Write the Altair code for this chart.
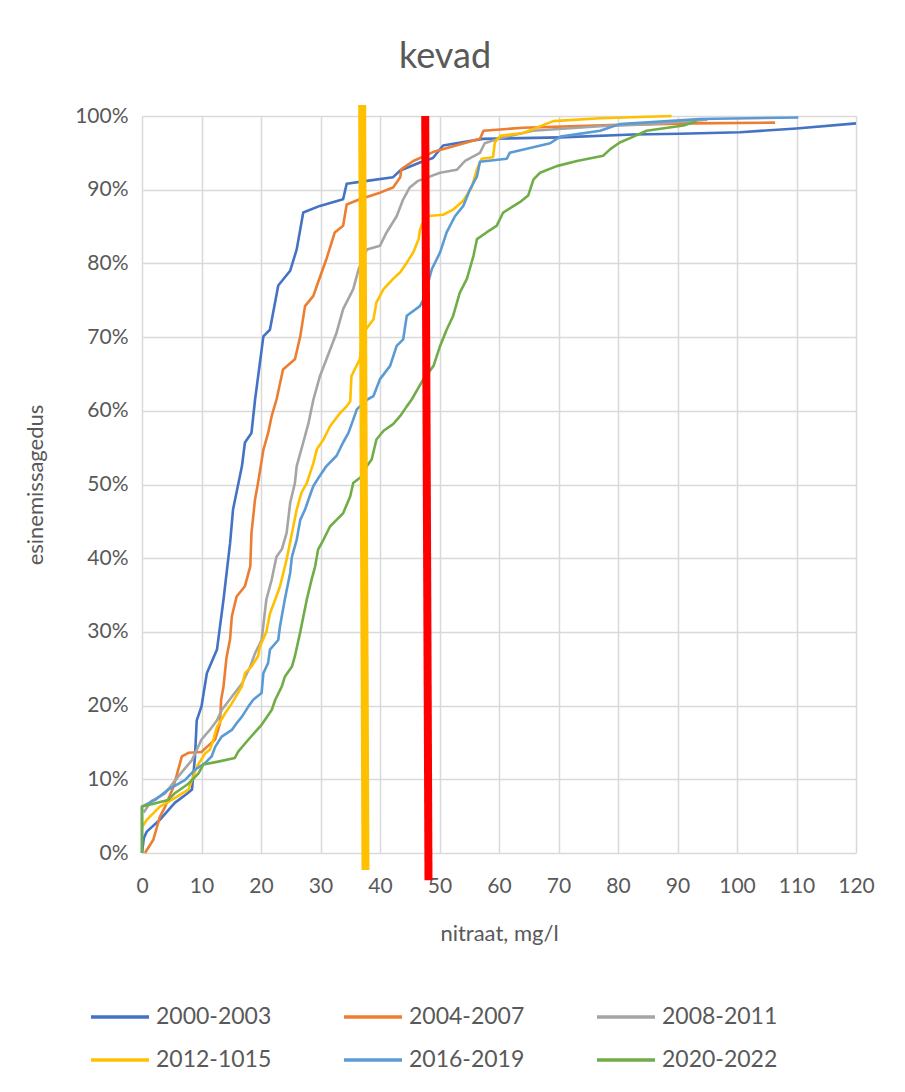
import altair as alt
import pandas as pd

series = ["2000-2003", "2004-2007", "2008-2011", "2012-1015", "2016-2019", "2020-2022"]
colors = ["#4472C4", "#ED7D31", "#A5A5A5", "#FFC000", "#5B9BD5", "#70AD47"]

x_2000 = [0, 0.3, 0.8, 3, 5.5, 7.5, 8.4, 8.9, 9.2, 10, 10.9, 12.6, 13.7, 14.8, 15.3, 16.8, 17.3,
          18.4, 19, 20.4, 21.5, 22.9, 24.9, 26, 27.1, 29.9, 33.8, 34.4, 37.8, 42.2, 43.4, 46.7,
          48.9, 50.6, 57.3, 70.3, 82.5, 90.4, 100.5, 110, 120]
p_2000 = [0, 2, 2.9, 4.5, 6.8, 8, 8.6, 13, 18, 19.9, 24.4, 27.6, 34.4, 42, 46.6, 52.5, 55.7,
          57, 61.5, 70.1, 71, 77, 79, 81.9, 86.9, 87.8, 88.7, 90.8, 91.2, 91.7, 92.6, 93.7,
          94.3, 96, 96.9, 97.1, 97.5, 97.6, 97.8, 98.3, 99]

x_2004 = [0.5, 1.9, 3, 3.9, 5.3, 6.7, 7.8, 10, 10.9, 12.3, 13.1, 13.3, 13.7, 14.2, 14.8, 15.1,
          15.9, 17.3, 18.2, 18.4, 19, 19.5, 20.4, 21.2, 21.8, 22.6, 23.7, 25.7, 26.6, 27.4, 28.8,
          29.4, 31, 32.4, 33.8, 34.4, 36.6, 40, 42.2, 43.4, 43.6, 45.6, 48.9, 56.8, 57.4, 64,
          80, 92.6, 106.4]
p_2004 = [0, 1.8, 4.9, 6.3, 9, 13.1, 13.6, 13.7, 14.4, 15.4, 17.6, 20.8, 22.6, 26.5, 29, 32.1,
          34.8, 36.2, 38.9, 43.4, 48, 50.2, 54.7, 57, 59.3, 61.5, 65.6, 67, 70.1, 74.2, 75.6,
          77, 80.6, 84.2, 85.1, 88, 88.7, 89.6, 90.3, 91.7, 92.8, 93.9, 95.1, 96.9, 98, 98.4,
          98.8, 99, 99.1]

x_2008 = [0.3, 1.5, 3.9, 6.1, 8.4, 10, 11.4, 12.6, 13.4, 15.1, 16.8, 18.2, 19, 20.1, 20.9, 21.8,
          22.6, 23.5, 24.3, 24.9, 25.7, 26, 27.1, 28, 28.8, 29.9, 31, 32.7, 33.8, 35.5, 36.4,
          37.8, 40, 41.1, 42.8, 43.9, 45, 46.4, 50.1, 52.9, 54.3, 56.8, 57.6, 60.2, 65.7, 77,
          85.4, 95]
p_2008 = [5.5, 7, 8.1, 10.4, 12.6, 15.4, 16.7, 18, 19.4, 21.2, 23, 25.3, 27.1, 28.9, 34.4, 37.1,
          40.2, 41.2, 43.4, 47.5, 50.2, 52.5, 55.7, 58.4, 61.5, 64.7, 67, 70.6, 73.8, 76.5, 79.2,
          81.9, 82.4, 84.2, 86.4, 88.7, 90.3, 91.2, 92.3, 92.7, 93.9, 95, 96.3, 97, 98, 98.6,
          98.9, 99.5]

x_2012 = [0, 0.8, 3, 5, 7.8, 8.4, 9.2, 10.6, 11.4, 12, 12.6, 14, 15.1, 16.8, 17.3, 18.4, 19.5,
          19.8, 20.9, 21.5, 22.4, 23.2, 24.3, 25.2, 26, 26.8, 27.7, 28.8, 29.4, 30.5, 31.6, 33.3,
          34.4, 35, 35.2, 36.6, 37.2, 38.9, 39.4, 40.6, 42.2, 43.4, 44.5, 45.6, 46.5, 46.7, 47.6,
          50.6, 52.3, 54, 55.4, 56.3, 57.1, 59, 59.3, 60.2, 64.1, 69.1, 77, 89]
p_2012 = [3.5, 4.5, 6.3, 7.2, 8.6, 9.9, 11.7, 13.5, 14, 15.4, 17.1, 19, 20.3, 22.6, 24.4, 25.3, 26.7,
          28, 30, 32.5, 34.4, 36.2, 39.8, 43.4, 46.6, 48.9, 50.2, 52.9, 54.8, 56.1, 57.9, 59.7,
          60.6, 61.3, 64.7, 67, 70.6, 72.4, 74.7, 76.5, 77.9, 78.8, 80.1, 81.5, 83.3, 84.5, 86.4,
          86.6, 87.3, 88.5, 90.3, 92.8, 94.2, 94.4, 96.4, 97.3, 97.7, 99.3, 99.7, 100]

x_2016 = [0, 0, 2.2, 4.4, 7.2, 8.9, 10.6, 11.7, 12.3, 13.4, 15.1, 15.9, 16.8, 17.9, 18.7, 20.1,
          20.4, 21.2, 21.5, 22.9, 23.2, 24, 24.9, 25.2, 26, 26.6, 27.4, 28, 28.8, 29.9, 31, 32.7,
          33.8, 34.7, 35.5, 36.1, 37.8, 38.9, 40, 41.7, 42.8, 43.9, 44.5, 46.7, 47.3, 48.7, 50.1,
          51.2, 52.6, 54, 55.1, 56.3, 56.8, 61.3, 61.8, 68.6, 70.3, 77, 80.3, 93.8, 110.3]
p_2016 = [0, 6.3, 7.2, 8.6, 9.9, 11.3, 12.2, 13.1, 14.4, 15.8, 16.7, 17.6, 18.5, 19.9, 20.8, 21.7,
          24.4, 25.8, 27.6, 28.9, 30.8, 34.4, 38, 40.2, 42.5, 45.2, 46.6, 48, 49.8, 51.2, 52.5,
          53.9, 55.7, 57, 58.8, 60.2, 61.5, 62, 64.3, 66.1, 68.8, 69.7, 72.9, 74.2, 75.1, 79.2,
          81.5, 84.2, 86.4, 87.8, 90, 91.8, 93.8, 94.2, 95, 96.3, 97.2, 98, 98.9, 99.6, 99.8]

x_2020 = [0, 0, 1.6, 4.4, 5.5, 7.8, 9.5, 10.3, 12.8, 15.6, 16.2, 17.9, 20.1, 21.8, 22.4, 23.5, 24,
          25.2, 25.7, 26.6, 27.7, 28.5, 29.1, 29.6, 30.5, 31.6, 32.7, 33.8, 35, 35.5, 36.9, 37.8,
          38.6, 39.4, 40.6, 42.2, 43.4, 44.5, 45.3, 47.3, 49, 50.1, 51.2, 52.3, 53.4, 54.6, 55.7,
          56.3, 57.9, 59.6, 60.7, 63.5, 64.9, 65.8, 66.9, 69.7, 73.1, 77.5, 78.7, 80.3, 82.6,
          84.8, 91, 93.2]
p_2020 = [0, 6.3, 6.6, 7.2, 8.1, 9.4, 10.8, 12, 12.4, 12.9, 13.8, 15.4, 17.4, 19.4, 20.8, 22.6,
          23.9, 25.3, 26.7, 30, 34.4, 37.1, 38.9, 41.2, 42.5, 44.3, 45.2, 46.1, 48.4, 50.2, 51.1,
          52.5, 53.4, 56.1, 57.3, 58.2, 59.3, 60.6, 61.5, 64.3, 66.1, 68.8, 71, 72.9, 76, 77.9,
          81, 83.3, 84.2, 85.1, 86.9, 88.3, 89.2, 91.4, 92.3, 93.2, 93.9, 94.6, 95.5, 96.4, 97.2,
          98, 98.7, 99.3]

# limit lines (bottom x, top x, bottom y, top y as fractions)
lim_names = ["kollane", "punane"]
lim_colors = ["#FFC000", "#FF0000"]
lim_x_bottom = [37.56, 48.15]
lim_x_top = [37.0, 47.6]
lim_y_bottom = [-0.023, -0.037]
lim_y_top = [1.015, 1.0]

xs = [x_2000, x_2004, x_2008, x_2012, x_2016, x_2020]
ps = [p_2000, p_2004, p_2008, p_2012, p_2016, p_2020]
rows = []
for name, xv, pv in zip(series, xs, ps):
    for i, (a, b) in enumerate(zip(xv, pv)):
        rows.append({"period": name, "x": a, "p": b / 100.0, "i": i})
df = pd.DataFrame(rows)

dfr = pd.DataFrame({"name": lim_names, "c": lim_colors, "xb": lim_x_bottom, "xt": lim_x_top,
                    "yb": lim_y_bottom, "yt": lim_y_top})

FONT = "Lato"
TXT = "#595959"

xscale = alt.Scale(domain=[0, 120], nice=False)
yscale = alt.Scale(domain=[0, 1], nice=False)

lines = alt.Chart(df).mark_line(strokeWidth=2.6, strokeJoin="round").encode(
    x=alt.X("x:Q", scale=xscale,
            axis=alt.Axis(values=list(range(0, 121, 10)), title="nitraat, mg/l",
                          labelPadding=22, titlePadding=27, labelFlush=False)),
    y=alt.Y("p:Q", scale=yscale,
            axis=alt.Axis(values=[i / 10 for i in range(11)], format=".0%",
                          title="esinemissagedus", labelPadding=14, titlePadding=27,
                          labelFlush=False)),
    color=alt.Color("period:N", scale=alt.Scale(domain=series, range=colors),
                    legend=alt.Legend(title=None, orient="none", legendX=-53, legendY=870,
                                      direction="horizontal", columns=3,
                                      symbolType="stroke", symbolSize=3364,
                                      symbolStrokeWidth=3.5, labelFontSize=23,
                                      labelFont=FONT, labelColor=TXT,
                                      columnPadding=65, rowPadding=-14, labelOffset=5)),
    order=alt.Order("i:Q"),
)

rules = alt.Chart(dfr).mark_rule(strokeWidth=8).encode(
    x=alt.X("xb:Q", scale=xscale),
    x2="xt:Q",
    y=alt.Y("yb:Q", scale=yscale),
    y2="yt:Q",
    stroke=alt.Stroke("c:N", scale=None),
)

chart = alt.layer(lines, rules).properties(
    width=714, height=737,
    title=alt.TitleParams("kevad", fontSize=36, font=FONT, color=TXT, fontWeight="normal",
                          anchor="middle", dx=-54, offset=25),
    autosize=alt.AutoSizeParams(type="none"),
    padding={"left": 134, "top": 108, "right": 30, "bottom": 225},
).configure_axis(
    labelFont=FONT, labelFontSize=21, labelColor=TXT,
    titleFont=FONT, titleFontSize=22, titleColor=TXT, titleFontWeight="normal",
    ticks=False, domain=False, gridColor="#D9D9D9", gridWidth=1.5,
).configure_view(stroke=None)

chart.save("out.html", embed_options={"renderer": "svg", "actions": False})
